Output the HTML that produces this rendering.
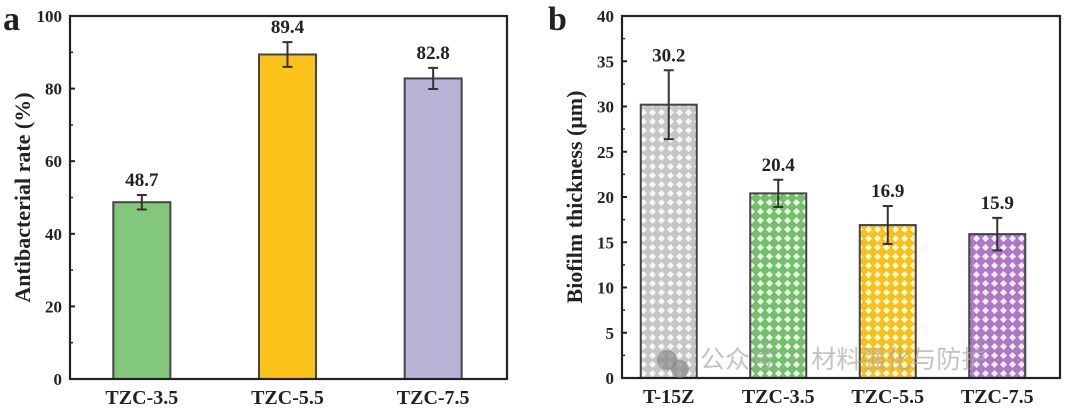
<!DOCTYPE html>
<html><head><meta charset="utf-8"><style>
body{margin:0;background:#fff;width:1080px;height:407px;overflow:hidden}
svg text{font-family:"Liberation Serif","Noto Serif CJK SC",serif;font-weight:bold;fill:#222}
</style></head><body>
<svg id="s" width="1080" height="407" xmlns="http://www.w3.org/2000/svg">
<defs>
<pattern id="pGray" width="9" height="9" patternUnits="userSpaceOnUse"><rect width="9" height="9" fill="#c6c6c6"/><path d="M4.5 1 L8 4.5 L4.5 8 L1 4.5Z" fill="#fff" opacity="0.85"/></pattern>
<pattern id="pGreen" width="9" height="9" patternUnits="userSpaceOnUse"><rect width="9" height="9" fill="#74c06a"/><path d="M4.5 1 L8 4.5 L4.5 8 L1 4.5Z" fill="#fff" opacity="0.85"/></pattern>
<pattern id="pYellow" width="9" height="9" patternUnits="userSpaceOnUse"><rect width="9" height="9" fill="#f8c118"/><path d="M4.5 1 L8 4.5 L4.5 8 L1 4.5Z" fill="#fff" opacity="0.85"/></pattern>
<pattern id="pPurple" width="9" height="9" patternUnits="userSpaceOnUse"><rect width="9" height="9" fill="#ad78c4"/><path d="M4.5 1 L8 4.5 L4.5 8 L1 4.5Z" fill="#fff" opacity="0.85"/></pattern>
</defs>
<text x="3" y="30" font-size="34">a</text>
<text x="548" y="30" font-size="34">b</text>
</svg>
<script>
// Panel a data
const catsA = ["TZC-3.5","TZC-5.5","TZC-7.5"];
const valsA = [48.7, 89.4, 82.8];
const errsA = [2.0, 3.4, 2.9];
const ticksA = [0,20,40,60,80,100];
const colorsA = ["#82c77a","#fbc31a","#b7b2d6"];
// Panel b data
const catsB = ["T-15Z","TZC-3.5","TZC-5.5","TZC-7.5"];
const valsB = [30.2, 20.4, 16.9, 15.9];
const errsB = [3.8, 1.5, 2.1, 1.8];
const ticksB = [0,5,10,15,20,25,30,35,40];
const colorsB = ["url(#pGray)","url(#pGreen)","url(#pYellow)","url(#pPurple)"];

const svg = document.getElementById('s');
const NS = "http://www.w3.org/2000/svg";
function mk(tag, attrs){const e=document.createElementNS(NS,tag);for(const k in attrs)e.setAttribute(k,attrs[k]);svg.appendChild(e);return e;}

function panel(p){
  const y = v => p.y1 - (v - p.min)/(p.max - p.min)*(p.y1 - p.y0);
  const band = (p.x1 - p.x0)/p.cats.length;
  const xc = i => p.x0 + band*(i+0.5) + p.shift;
  p.vals.forEach((v,i)=>{
    const r = mk('rect',{x:xc(i)-p.bw/2,y:y(v),width:p.bw,height:y(p.min)-y(v),fill:p.colors[i],stroke:"#444","stroke-width":2});
    
    
    const e = p.errs[i];
    const eb = mk('path',{d:`M${xc(i)} ${y(v+e)}V${y(v-e)}M${xc(i)-5} ${y(v+e)}h10M${xc(i)-5} ${y(v-e)}h10`,stroke:"#333","stroke-width":2,fill:"none"});
    
    
    const t = mk('text',{x:xc(i),y:y(v+e)-9,"text-anchor":"middle","font-size":19});
    t.textContent = v.toFixed(1);
    
    
    const c = mk('text',{x:xc(i),y:p.y1+25,"text-anchor":"middle","font-size":20});
    c.textContent = p.cats[i];
    
    
  });
  const f = mk('rect',{x:p.x0,y:p.y0,width:p.x1-p.x0,height:p.y1-p.y0,fill:"none",stroke:"#222","stroke-width":2.2});
  
  
  p.ticks.forEach((t,i)=>{
    const tk = mk('path',{d:`M${p.x0} ${y(t)}h5`,stroke:"#222","stroke-width":2});
    
    
    if(i<p.ticks.length-1){
      const m=(t+p.ticks[i+1])/2;
      const mt = mk('path',{d:`M${p.x0} ${y(m)}h3`,stroke:"#222","stroke-width":1.5});
      
      
    }
    const l = mk('text',{x:p.x0-8,y:y(t)+6,"text-anchor":"end","font-size":17});
    l.textContent = t;
    
    
  });
  const yt = mk('text',{x:0,y:0,"text-anchor":"middle","font-size":22,transform:`translate(${p.tx},${(p.y0+p.y1)/2}) rotate(-90)`});
  yt.textContent = p.title;
  
  
}
panel({id:"a",x0:70,x1:507,y0:16,y1:379,min:0,max:100,cats:catsA,vals:valsA,errs:errsA,ticks:ticksA,colors:colorsA,bw:57,shift:-1,tx:30,title:"Antibacterial rate (%)"});
panel({id:"b",x0:622,x1:1060,y0:16,y1:378,min:0,max:40,cats:catsB,vals:valsB,errs:errsB,ticks:ticksB,colors:colorsB,bw:56,shift:-8,tx:582,title:"Biofilm thickness (μm)"});

const wm = mk('text',{x:700,y:368,"font-size":25,style:"font-family:'Noto Sans CJK SC',sans-serif;font-weight:normal;fill:#aaa;opacity:0.7"});
wm.textContent = "公众号 · 材料强化与防护";


const wc1 = mk('circle',{cx:667,cy:360,r:10,fill:"#888",opacity:0.7});


const wc2 = mk('circle',{cx:680,cy:369,r:9,fill:"#888",opacity:0.7});


</script>
</body></html>
